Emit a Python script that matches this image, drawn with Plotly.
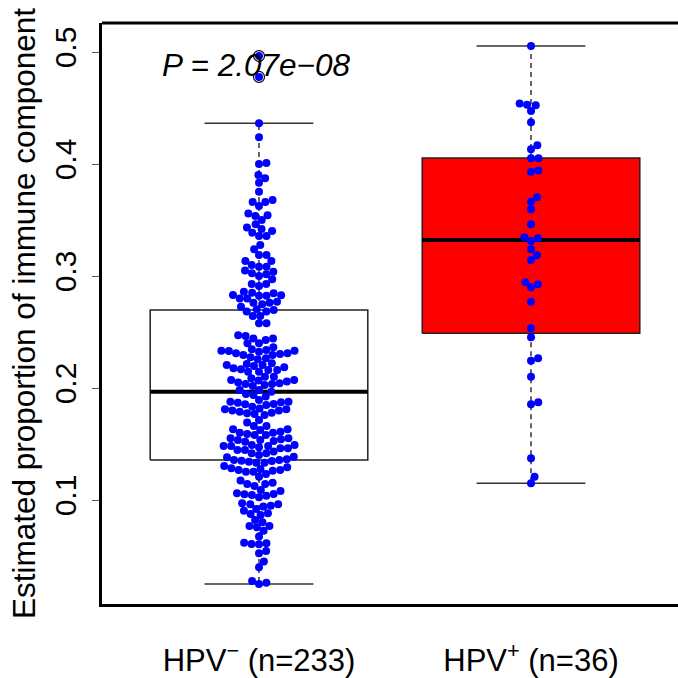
import numpy as np
import plotly.graph_objects as go

# ---------------- data ----------------
group_pos = [1, 2]
group_labels = ["HPV<sup>−</sup> (n=233)", "HPV<sup>+</sup> (n=36)"]
box_fill = ["#FFFFFF", "#FF0000"]

hpv_neg = [
    0.4964, 0.4777,
    0.4363, 0.4238, 0.4010, 0.4000, 0.3902, 0.3872, 0.3833, 0.3753,
    0.3678, 0.3661, 0.3661, 0.3625, 0.3559, 0.3542, 0.3536, 0.3500,
    0.3461, 0.3434, 0.3420, 0.3402, 0.3387, 0.3357, 0.3357, 0.3277,
    0.3238, 0.3187, 0.3187, 0.3134, 0.3134, 0.3098, 0.3083, 0.3083,
    0.3048, 0.3039, 0.3024, 0.3015, 0.3000, 0.2970, 0.2929, 0.2929,
    0.2911, 0.2860, 0.2851, 0.2845, 0.2827, 0.2824, 0.2824, 0.2830,
    0.2800, 0.2800, 0.2771, 0.2762, 0.2762, 0.2747, 0.2726, 0.2702,
    0.2696, 0.2682, 0.2682, 0.2643, 0.2643, 0.2577, 0.2577,
    0.2470, 0.2464, 0.2443, 0.2443, 0.2429, 0.2399, 0.2399,
    0.2363, 0.2345, 0.2339, 0.2333, 0.2333, 0.2330, 0.2324, 0.2310,
    0.2310, 0.2304, 0.2295, 0.2295, 0.2274, 0.2265, 0.2256,
    0.2220, 0.2214, 0.2205, 0.2205, 0.2196, 0.2185, 0.2176, 0.2167,
    0.2161, 0.2161, 0.2146, 0.2146, 0.2101,
    0.2101, 0.2086, 0.2072, 0.2072, 0.2066, 0.2057, 0.2048, 0.2042,
    0.2036, 0.2036, 0.2027, 0.2018, 0.1982,
    0.1982, 0.1967, 0.1946, 0.1938,
    0.1923, 0.1893, 0.1878, 0.1878, 0.1872, 0.1869, 0.1857, 0.1854,
    0.1848, 0.1833,
    0.1818, 0.1810, 0.1810, 0.1798, 0.1798, 0.1789, 0.1780, 0.1774,
    0.1768, 0.1759,
    0.1714, 0.1691,
    0.1661, 0.1661, 0.1631, 0.1631, 0.1625, 0.1610, 0.1601, 0.1601,
    0.1589, 0.1580, 0.1580,
    0.1551, 0.1551, 0.1542, 0.1536, 0.1536, 0.1527, 0.1521, 0.1491,
    0.1491, 0.1482, 0.1482, 0.1482, 0.1470, 0.1461, 0.1461, 0.1446,
    0.1446, 0.1432, 0.1417, 0.1417, 0.1402, 0.1387,
    0.1381, 0.1363, 0.1357, 0.1357, 0.1351, 0.1348, 0.1342, 0.1333,
    0.1333,
    0.1304, 0.1292, 0.1283, 0.1277, 0.1268, 0.1268, 0.1262, 0.1253,
    0.1253, 0.1232, 0.1208,
    0.1173, 0.1155, 0.1143, 0.1143, 0.1125,
    0.1089, 0.1080, 0.1060, 0.1054, 0.1051, 0.1045, 0.1039, 0.1024,
    0.0970, 0.0961, 0.0961, 0.0949, 0.0941, 0.0920, 0.0905,
    0.0881, 0.0875, 0.0866, 0.0821,
    0.0801, 0.0768, 0.0768, 0.0756, 0.0726,
    0.0673,
    0.0619, 0.0613, 0.0607, 0.0604,
    0.0545, 0.0524,
    0.0450, 0.0399,
    0.0277, 0.0262, 0.0250,
]

hpv_pos = [
    0.5054, 0.4540, 0.4530, 0.4525, 0.4473, 0.4372, 0.4167, 0.4131,
    0.4051, 0.4051, 0.3941, 0.3931, 0.3703, 0.3664, 0.3595, 0.3461,
    0.3345, 0.3336, 0.3313, 0.3238, 0.3185, 0.3143, 0.2944, 0.2926,
    0.2899, 0.2771, 0.2533, 0.2453, 0.2265, 0.2244, 0.2101, 0.1872,
    0.1854, 0.1372, 0.1208, 0.1149,
]

lower_whisker = [0.0250, 0.1149]
q1 = [0.1357, 0.2488]
median = [0.1967, 0.3321]
q3 = [0.2696, 0.4054]
upper_whisker = [0.4363, 0.5054]

y_ticks = [0.1, 0.2, 0.3, 0.4, 0.5]
y_title = "Estimated proportion of immune component"
p_text = "P = 2.07e−08"

# ---------------- layout geometry ----------------
W, H = 678, 678
margin = dict(l=102, r=0, t=23, b=74)
x_range = [0.4228, 2.5404]
y_range = [0.00714, 0.52589]
px_per_x = (W - margin["l"] - margin["r"]) / (x_range[1] - x_range[0])
px_per_y = (H - margin["t"] - margin["b"]) / (y_range[1] - y_range[0])

FONT = "Liberation Sans, Arial, Helvetica, sans-serif"
box_half = 0.4
staple_half = 0.2


def swarm(vals, d):
    """Beeswarm 'swarm' placement (ascending priority) in pixel space."""
    y = np.asarray(vals) * px_per_y
    xs = np.zeros(len(y))
    placed = []
    for i in np.argsort(y, kind="stable"):
        near = [j for j in placed if abs(y[i] - y[j]) < d]
        cands = [0.0]
        for j in near:
            dx = np.sqrt(d * d - (y[i] - y[j]) ** 2)
            cands += [xs[j] + dx, xs[j] - dx]
        cands.sort(key=lambda c: (abs(c), -c))
        for c in cands:
            if all((c - xs[j]) ** 2 + (y[i] - y[j]) ** 2 >= d * d - 1e-6 for j in near):
                xs[i] = c
                break
        placed.append(i)
    return xs / px_per_x


fig = go.Figure()

for k, (pos, vals) in enumerate(zip(group_pos, [hpv_neg, hpv_pos])):
    # box body
    fig.add_trace(go.Scatter(
        x=[pos - box_half, pos + box_half, pos + box_half, pos - box_half, pos - box_half],
        y=[q1[k], q1[k], q3[k], q3[k], q1[k]],
        mode="lines", fill="toself", fillcolor=box_fill[k],
        line=dict(color="#222222", width=1.5), hoverinfo="skip", showlegend=False))
    # whiskers (dashed)
    for a, b in [(q3[k], upper_whisker[k]), (q1[k], lower_whisker[k])]:
        fig.add_trace(go.Scatter(
            x=[pos, pos], y=[a, b], mode="lines",
            line=dict(color="black", width=1.2, dash="5px,4px"),
            hoverinfo="skip", showlegend=False))
    # staples
    for v in [upper_whisker[k], lower_whisker[k]]:
        fig.add_trace(go.Scatter(
            x=[pos - staple_half, pos + staple_half], y=[v, v], mode="lines",
            line=dict(color="#333333", width=1.5), hoverinfo="skip", showlegend=False))
    # median
    fig.add_trace(go.Scatter(
        x=[pos - box_half, pos + box_half], y=[median[k], median[k]], mode="lines",
        line=dict(color="black", width=4), hoverinfo="skip", showlegend=False))
    # outliers (open circles)
    outl = [v for v in vals if v > upper_whisker[k] + 1e-9 or v < lower_whisker[k] - 1e-9]
    if outl:
        fig.add_trace(go.Scatter(
            x=[pos] * len(outl), y=outl, mode="markers",
            marker=dict(symbol="circle-open", size=11, color="black", line=dict(width=1.2)),
            hoverinfo="skip", showlegend=False))
    # beeswarm dots
    offs = swarm(vals, 7.5)
    fig.add_trace(go.Scatter(
        x=pos + offs, y=vals, mode="markers",
        marker=dict(size=8, color="#0000FF", line=dict(width=0)),
        showlegend=False))

fig.add_annotation(
    x=0.99, y=0.488, xref="x", yref="y", text="<i>" + p_text + "</i>",
    showarrow=False, font=dict(family=FONT, size=31.5, color="black"))

# top frame line (right side lies beyond the page in the reference)
fig.add_shape(type="line", xref="paper", yref="paper", x0=0, x1=1, y0=1, y1=1,
              line=dict(color="black", width=3))

fig.update_layout(
    width=W, height=H, margin=margin,
    paper_bgcolor="white", plot_bgcolor="white",
    font=dict(family=FONT, size=30, color="black"),
    xaxis=dict(range=x_range, showgrid=False, zeroline=False,
               showline=True, linecolor="black", linewidth=3,
               tickvals=group_pos, ticktext=group_labels, ticks="",
               tickfont=dict(size=31), ticklabelstandoff=27),
    yaxis=dict(range=y_range, showgrid=False, zeroline=False,
               showline=True, linecolor="black", linewidth=3,
               tickvals=y_ticks, ticktext=[f"{t:.1f}" for t in y_ticks],
               ticks="outside", ticklen=7, tickwidth=1, tickcolor="#555555",
               tickangle=-90, tickfont=dict(size=30), ticklabelstandoff=4,
               title=dict(text=y_title, font=dict(size=31.5), standoff=4)),
)

fig.write_html("out.html")
